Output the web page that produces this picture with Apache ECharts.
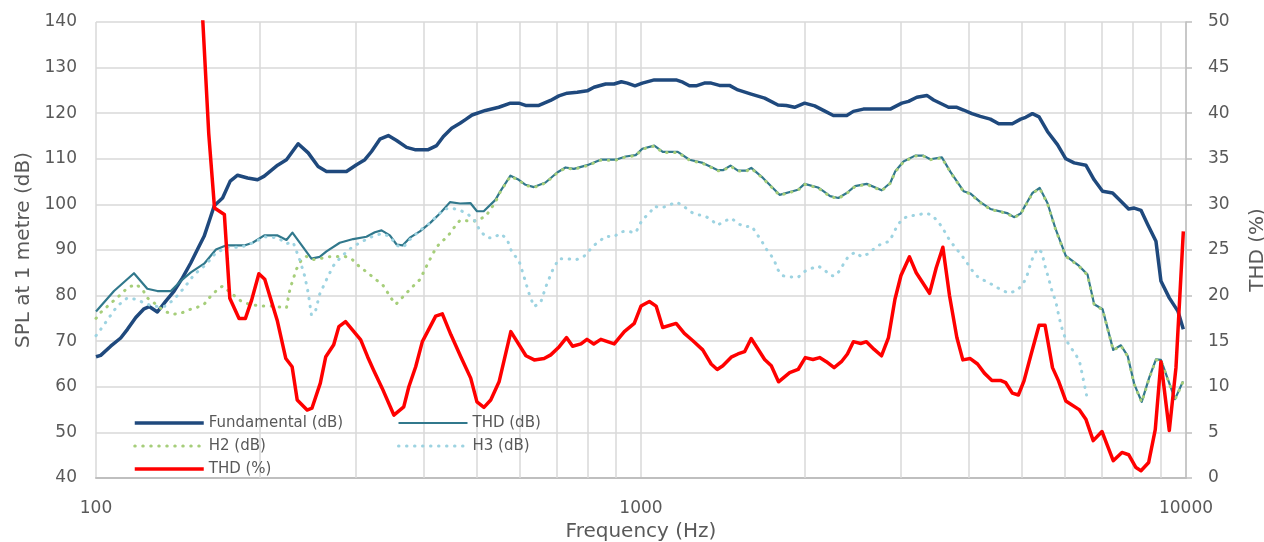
<!DOCTYPE html>
<html><head><meta charset="utf-8">
<script src="https://cdn.jsdelivr.net/npm/echarts@6/dist/echarts.min.js"></script>
<style>html,body{margin:0;padding:0;background:#fff}#c{width:1264px;height:542px}</style>
</head><body><div id="c"></div>
<script>
// Frequencies (Hz) and values
const fundFreq=[100,102,106.4,111,114.2,118.3,122.5,125.2,129.6,134.3,139.1,144.1,149.3,153.5,157.9,161.3,164.8,170.7,176.3,181.9,189.7,197.9,203.6,215.4,223.6,234.9,245.1,255.6,264.8,288.1,300.6,311.4,320.3,331.8,343.8,356.1,371.5,384.7,407,421.7,433.9,449.4,465.5,476.3,489.8,518.3,548.3,576.1,596.7,614,649.5,682.3,706.8,732.1,763.7,796.8,819.7,861.3,892.2,920.2,943.8,975,1005.6,1057.8,1159.6,1193,1227,1262,1307,1345,1393,1453,1506,1593,1686,1784,1848,1913,1996,2083,2170,2254,2385,2453,2559,2866,3010,3097,3207,3346,3443,3667,3798,3907,4048,4194,4375,4532,4801,4974,5080,5226,5375,5569,5810,6018,6234,6550,6784,7030,7334,7596,7848,8036,8268,8505,8808,8995,9318,9663,9888];
const fundDb=[66.6,66.9,68.9,70.7,72.6,75.2,77.1,77.6,76.4,78.8,81.0,83.9,87.2,90.1,93.0,96.3,99.7,101.4,105.1,106.4,105.8,105.4,106.2,108.6,109.8,113.3,111.3,108.3,107.2,107.2,108.7,109.8,111.6,114.3,115.1,114.0,112.5,112.0,112.0,112.9,114.9,116.7,117.8,118.6,119.6,120.6,121.3,122.2,122.2,121.7,121.7,122.8,123.8,124.4,124.6,124.9,125.7,126.4,126.4,126.9,126.6,126.0,126.6,127.3,127.3,126.8,126.0,126.0,126.6,126.6,126.1,126.1,125.1,124.2,123.3,121.8,121.7,121.3,122.2,121.6,120.5,119.5,119.5,120.4,120.9,120.9,122.2,122.6,123.5,123.9,122.9,121.3,121.3,120.7,119.9,119.3,118.7,117.7,117.7,118.7,119.1,119.9,119.2,116.0,113.1,110.0,109.1,108.6,105.4,102.9,102.5,100.7,99.0,99.2,98.7,95.6,91.9,83.2,79.5,76.6,72.6];

const thdFreq=[100,107.9,117.4,124.2,129.6,137.2,143.1,149.3,157.9,166,173.1,187.1,193.8,203.6,215.4,223.6,229.3,248.5,257.3,264.8,280.1,296.4,313.5,324.8,334.2,346.1,356.1,365.2,376.7,392.9,410,427.6,446.2,465.5,486.3,500.1,514.5,540.6,552.2,576.1,596.7,614,636,668.1,701.9,727,753.3,796.8,843.4,898.6,937.4,977.9,1005.6,1057.8,1096.3,1168.3,1227,1298.4,1383.7,1413.4,1459.6,1506,1559.6,1593.3,1674,1795.8,1941.6,1996,2112.6,2161,2223,2302,2385,2470,2595,2765,2866,2926,3031,3184,3298,3394,3565,3694,3907,4019,4194,4375,4695,4835,4974,5226,5390,5569,5768,6018,6367,6597,6784,7030,7353,7596,7814,8036,8293,8561,8808,8995,9545,9874];
const thdDb=[76.5,81.0,84.9,81.5,81.0,81.0,83.2,85.1,87.0,90.1,91.0,91.0,91.6,93.2,93.2,92.2,93.8,88.1,88.5,89.7,91.6,92.4,92.9,93.9,94.3,93.2,91.2,91.0,92.7,94.1,95.9,98.0,100.5,100.2,100.3,98.5,98.5,101.0,102.9,106.3,105.4,104.3,103.8,104.8,107.0,108.1,107.8,108.6,109.8,109.8,110.5,110.8,112.2,112.9,111.5,111.5,109.8,109.1,107.5,107.5,108.5,107.4,107.4,108.0,105.8,102.1,103.2,104.5,103.7,102.9,101.8,101.4,102.5,104.0,104.5,103.1,104.7,107.2,109.4,110.7,110.7,109.9,110.3,107.2,102.9,102.4,100.5,99.0,98.1,97.2,98.0,102.5,103.6,100.3,94.5,88.7,86.5,84.6,78.1,77.0,68.1,69.1,66.8,60.6,56.7,62.0,66.0,65.9,57.3,61.2];

const h2Freq=[100,102,107.1,110.2,114.2,118.3,121.7,124.2,128.8,133.4,138.1,143.1,147.1,152.5,157.9,161.3,166,170.7,178,184.5,191.1,200.8,209.5,214.2,223.6,226.1,228.3,233.2,238.1,243.2,250.2,257.3,266.6,276.2,286.1,294.3,302.8,318.1,336.5,348.6,355,371.5,382.1,392.9,404.2,415.9,427.6,440,455.8,465.5,493.2,518.3,540.6,552.2,576.1,596.7,614,636,668.1,701.9,727,753.3,796.8,843.4,898.6,937.4,977.9,1005.6,1057.8,1096.3,1168.3,1227,1298.4,1383.7,1413.4,1459.6,1506,1559.6,1593.3,1674,1795.8,1941.6,1996,2112.6,2161,2223,2302,2385,2470,2595,2765,2866,2926,3031,3184,3298,3394,3565,3694,3907,4019,4194,4375,4695,4835,4974,5226,5390,5569,5768,6018,6367,6597,6784,7030,7353,7596,7814,8036,8293,8561,8808,8995,9545,9874];
const h2Db=[75.0,76.3,78.6,79.9,81.7,82.5,81.4,79.5,78.1,76.6,75.9,76.1,76.8,77.3,78.1,79.5,81.0,82.1,80.3,78.8,78.1,77.7,77.7,77.6,77.3,80.6,82.4,85.8,87.8,88.6,87.9,88.1,88.5,88.6,88.6,88.1,86.6,84.6,82.2,79.3,78.1,80.6,82.1,83.5,86.5,89.4,91.6,92.7,95.2,96.5,96.3,97.3,100.5,102.8,106.2,105.3,104.2,103.7,104.7,106.9,108.0,107.7,108.5,109.7,109.7,110.4,110.7,112.1,112.8,111.4,111.4,109.7,109.0,107.4,107.4,108.4,107.3,107.3,107.9,105.7,102.0,103.1,104.4,103.6,102.8,101.7,101.3,102.4,103.9,104.4,103.0,104.6,107.1,109.3,110.6,110.6,109.8,110.2,107.1,102.8,102.3,100.4,98.9,98.0,97.1,97.9,102.4,103.5,100.2,94.4,88.6,86.4,84.5,78.0,76.9,68.0,69.0,66.7,60.5,56.6,61.9,65.9,65.8,57.2,61.1];

const h3Freq=[100,102,105.7,109.4,114.2,118.3,122.5,126.9,130.5,134.3,139.1,145.1,151.4,159.1,166,174.3,184.5,195.2,203.6,215.4,223.6,230,236.4,241.5,245.1,248.5,253,257.3,264.8,272.4,282.1,294.3,304.8,320.3,334.2,346.1,356.1,366.3,376.7,392.9,410,424.7,436.9,449.4,465.5,479.4,493.2,507.4,521.9,536.9,552.2,567.8,580,596.7,609.5,622.5,636,654.1,669.8,687.1,706.8,732.1,758.6,785.7,819.7,861.3,892.2,917.8,943.8,977.9,1005.6,1035.8,1057.8,1088.4,1119.6,1159.8,1193,1227,1262,1307,1345,1380,1422,1464,1506,1549,1598,1628,1662,1690,1729,1758,1778,1814,1874,1942,1988,2048,2113,2173,2223,2271,2320,2359,2402,2470,2541,2614,2689,2765,2857,2946,3010,3097,3207,3322,3417,3490,3565,3632,3694,3772,3852,3935,4019,4105,4194,4325,4450,4596,4734,4905,5010,5096,5151,5226,5338,5436,5529,5593,5689,5768,5850,5950,6036,6146,6278,6385,6475,6569];
const h3Db=[71.2,72.6,75.2,77.7,79.5,79.2,78.4,77.7,77.6,77.7,79.2,81.7,84.6,86.8,89.4,90.6,90.6,91.7,92.9,92.7,91.4,91.7,87.9,84.3,80.6,75.7,76.8,80.3,83.5,86.5,88.6,90.5,91.6,92.9,93.6,93.0,91.0,90.6,92.3,94.3,95.9,97.8,99.0,99.2,98.7,98.0,96.8,94.1,92.7,92.7,93.6,92.4,89.4,87.8,84.3,80.6,77.6,78.4,82.1,85.4,88.1,88.1,87.8,88.6,91.0,93.0,92.9,94.0,94.1,93.8,96.7,98.0,99.6,99.2,99.7,100.5,99.8,98.5,97.8,97.5,96.7,95.4,96.3,97.0,95.8,95.1,95.2,93.6,92.2,90.5,89.0,87.6,85.9,84.4,84.1,84.0,85.2,85.9,86.5,85.6,84.4,84.3,85.6,87.2,88.6,89.5,88.5,89.2,90.5,91.4,91.9,95.1,96.7,97.5,97.6,98.1,97.7,96.5,95.1,93.4,91.9,90.6,89.2,87.8,86.1,84.6,83.7,83.0,82.1,81.2,80.5,81.2,82.4,83.9,85.9,88.1,90.3,89.5,85.9,83.9,80.6,78.8,75.2,71.9,70.1,68.6,67.1,65.3,61.8,58.2];

const thdPctFreq=[153,157,161,165,172,176,183,188,193,199,204,215,223,229,234,244,249,258,264,273,279,287,306,315,323,335,352,367,375,386,397,420,432,448,467,487,500,515,530,549,577,615,637,664,683,708,730,749,776,796,819,844,893,932,972,1000,1036,1066,1096,1160,1201,1245,1298,1345,1380,1413,1464,1506,1549,1593,1686,1734,1788,1874,1942,2002,2068,2127,2188,2261,2332,2392,2453,2530,2592,2678,2762,2845,2924,2999,3109,3199,3384,3481,3580,3683,3798,3895,4019,4145,4266,4404,4565,4669,4801,4925,5044,5189,5375,5513,5689,5835,6018,6367,6550,6757,7011,7353,7629,7848,8094,8268,8540,8782,8995,9318,9585,9888];
const thdPct=[61,50.2,37.8,29.6,28.9,19.7,17.5,17.5,19.5,22.4,21.8,17.3,13.1,12.2,8.55,7.45,7.65,10.4,13.3,14.6,16.6,17.15,15.15,13.3,11.85,9.85,6.9,7.8,10.0,12.2,14.95,17.75,18.0,15.7,13.3,10.95,8.35,7.75,8.55,10.55,16.05,13.4,12.95,13.1,13.5,14.4,15.4,14.45,14.7,15.2,14.7,15.2,14.7,16.05,16.95,18.85,19.35,18.85,16.5,16.95,15.85,15.05,14.05,12.5,11.9,12.3,13.25,13.6,13.85,15.3,13.0,12.3,10.55,11.55,11.9,13.2,13.0,13.2,12.75,12.1,12.75,13.6,14.95,14.75,14.95,14.1,13.4,15.4,19.6,22.2,24.25,22.5,20.25,23.05,25.3,19.95,15.4,12.95,13.1,12.5,11.5,10.7,10.7,10.45,9.3,9.1,10.65,13.4,16.75,16.75,12.1,10.65,8.45,7.5,6.45,4.1,5.1,1.9,2.8,2.55,1.15,0.8,1.7,5.3,12.75,5.2,12.1,27.05];

const gridFreqs=[200,300,400,500,600,700,800,900,2000,3000,4000,5000,6000,7000,8000,9000];

function pairs(f,v){return f.map((x,i)=>[x,v[i]]);}
const FONT='DejaVu Sans', TXT='#595959', GRID='#D9D9D9', AX='#BFBFBF';
const chart=echarts.init(document.getElementById('c'),null,{renderer:'canvas'});
const dot=[0.5,7.5];
const legendCommon={orient:'vertical',top:415,padding:0,itemWidth:69,itemHeight:16,itemGap:7,
  itemStyle:{opacity:0},lineStyle:{width:'inherit'},
  textStyle:{fontFamily:FONT,fontSize:15,color:TXT,lineHeight:16}};
chart.setOption({
  animation:false,
  backgroundColor:'#fff',
  grid:{left:96,right:78,top:22,bottom:64,containLabel:false,outerBoundsMode:'none'},
  xAxis:{type:'log',logBase:10,min:100,max:10000,
    name:'Frequency (Hz)',nameLocation:'middle',nameGap:43,
    nameTextStyle:{fontFamily:FONT,fontSize:20,color:TXT},
    axisLine:{show:true,lineStyle:{color:AX,width:2}},
    axisTick:{show:false},
    axisLabel:{margin:22,fontFamily:FONT,fontSize:17,color:TXT,formatter:v=>String(Math.round(v))},
    splitLine:{show:true,lineStyle:{color:GRID,width:1.5}}
  },
  yAxis:[
    {type:'value',min:40,max:140,interval:10,position:'left',
     name:'SPL at 1 metre (dB)',nameLocation:'middle',nameGap:55,nameRotate:90,
     nameTextStyle:{fontFamily:FONT,fontSize:20,color:TXT},
     axisLine:{show:false},axisTick:{show:false},
     axisLabel:{margin:19,fontFamily:FONT,fontSize:17,color:TXT},
     splitLine:{show:true,lineStyle:{color:GRID,width:1.5}}},
    {type:'value',min:0,max:50,interval:5,position:'right',
     name:'THD (%)',nameLocation:'middle',nameGap:62,nameRotate:90,
     nameTextStyle:{fontFamily:FONT,fontSize:20,color:TXT},
     axisLine:{show:true,lineStyle:{color:AX,width:1.5}},
     axisTick:{show:true,length:6,lineStyle:{color:AX,width:1.5}},
     axisLabel:{margin:22,fontFamily:FONT,fontSize:17,color:TXT},
     splitLine:{show:false}}
  ],
  legend:[
    Object.assign({left:133,data:['Fundamental (dB)','H2 (dB)','THD (%)']},legendCommon),
    Object.assign({left:397,data:['THD (dB)','H3 (dB)']},legendCommon)
  ],
  series:[
    {name:'Fundamental (dB)',type:'line',yAxisIndex:0,data:pairs(fundFreq,fundDb),symbol:'none',
     lineStyle:{color:'#1F497D',width:3.5,join:'round'},itemStyle:{color:'#1F497D'},z:3,
     markLine:{silent:true,symbol:'none',z:1,animation:false,label:{show:false},
       lineStyle:{color:GRID,width:1.5,type:'solid'},emphasis:{disabled:true},
       data:gridFreqs.map(f=>({xAxis:f}))}},
    {name:'THD (dB)',type:'line',yAxisIndex:0,data:pairs(thdFreq,thdDb),symbol:'none',
     lineStyle:{color:'#31788C',width:2.2,join:'round'},itemStyle:{color:'#31788C'},z:4},
    {name:'H2 (dB)',type:'line',yAxisIndex:0,data:pairs(h2Freq,h2Db),symbol:'none',
     lineStyle:{color:'#A6CE7A',width:3,type:dot,cap:'round'},itemStyle:{color:'#A6CE7A'},z:5},
    {name:'H3 (dB)',type:'line',yAxisIndex:0,data:pairs(h3Freq,h3Db),symbol:'none',
     lineStyle:{color:'#9DD3E1',width:3,type:dot,cap:'round'},itemStyle:{color:'#9DD3E1'},z:6},
    {name:'THD (%)',type:'line',yAxisIndex:1,data:pairs(thdPctFreq,thdPct),symbol:'none',
     lineStyle:{color:'#FF0000',width:3.5,join:'round'},itemStyle:{color:'#FF0000'},z:7}
  ]
});
</script></body></html>
